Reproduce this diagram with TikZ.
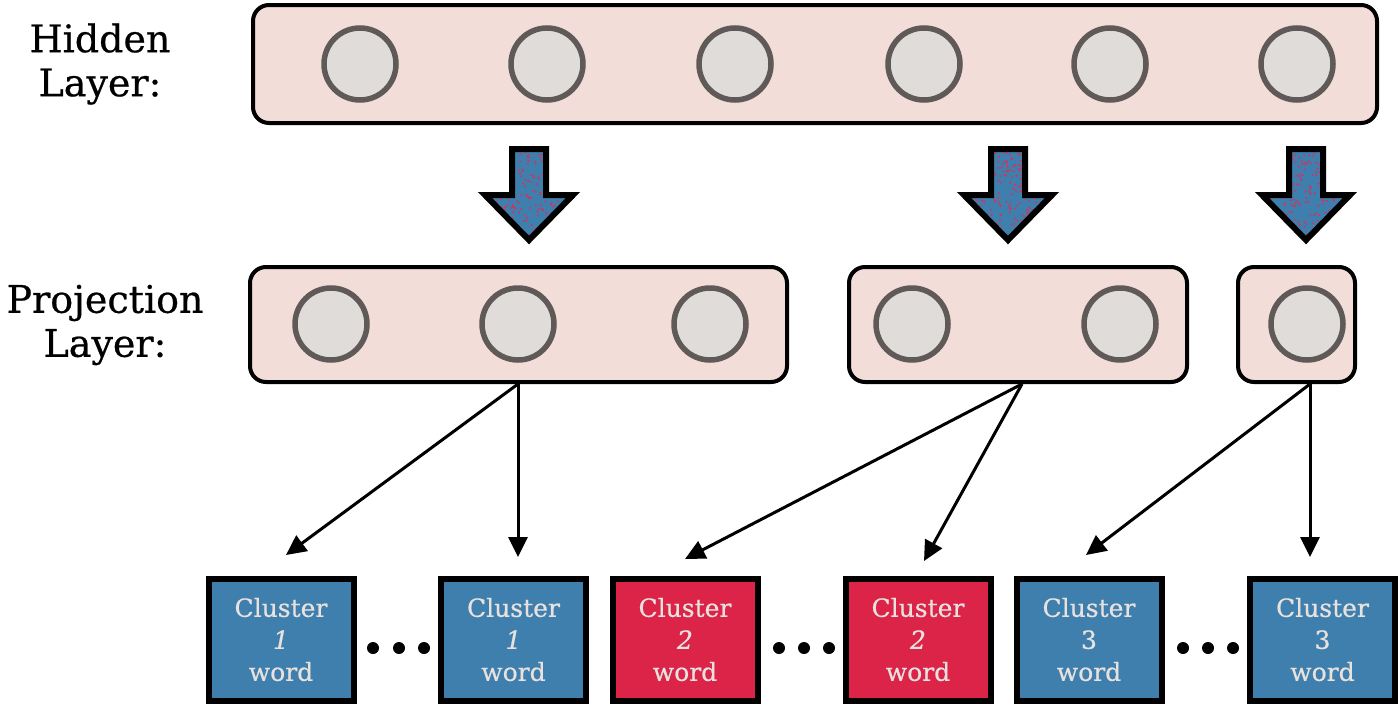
\documentclass[tikz,border=0pt]{standalone}
\usepackage{fontspec}
\setmainfont{DejaVu Serif}
\newfontfamily\heavyserif[FakeBold=0.6]{DejaVu Serif}
\usetikzlibrary{arrows.meta}
\definecolor{boxfill}{HTML}{F2DDD8}
\definecolor{circfill}{HTML}{E0DCDA}
\definecolor{circline}{HTML}{5F5A57}
\definecolor{cblue}{HTML}{3F7FAE}
\definecolor{cred}{HTML}{DC2348}
\definecolor{ctext}{HTML}{E8E2DE}
\definecolor{speck}{HTML}{D8305A}
\begin{document}
\begin{tikzpicture}[x=1pt,y=-1pt,
  layer/.style={draw=black,line width=4pt,fill=boxfill,rounded corners=16pt},
  unit/.style={circle,draw=circline,line width=5.5pt,fill=circfill,minimum size=72pt,inner sep=0pt},
  cluster/.style={draw=black,line width=6pt,minimum width=145pt,minimum height=122pt,inner sep=0pt,
     text=ctext,font=\heavyserif\fontsize{25}{32}\selectfont,align=center},
  lbl/.style={font=\heavyserif\fontsize{38}{44}\selectfont,align=center},
  conn/.style={line width=3pt,-{Triangle[length=20pt,width=19pt]}},
  dot/.style={circle,fill=black,minimum size=12pt,inner sep=0pt}
]
\useasboundingbox (0,0) rectangle (1400,707);
% hidden layer
\node[layer,minimum width=1124pt,minimum height=118pt] (hid) at (815,64) {};
\foreach \x [count=\i] in {360,547,735,924,1110,1297}
  \node[unit] (h\i) at (\x,64) {};
\node[lbl] (hl) at (100,64) {Hidden\\Layer:};
% block arrows
\foreach \c/\n in {529/a1,1008/a2,1306/a3}{
  \coordinate (\n) at (\c,195);
  \begin{scope}
  \path[clip] (\c-14,152) -- (\c+14,152) -- (\c+14,198) -- (\c+38,198) -- (\c,236) -- (\c-38,198) -- (\c-14,198) -- cycle;
  \fill[cblue] (\c-40,150) rectangle (\c+40,240);
  \pgfmathsetseed{\c}
  \foreach \k in {1,...,220}{
    \pgfmathsetmacro{\rx}{\c-38+76*rnd}
    \pgfmathsetmacro{\ry}{152+84*rnd}
    \fill[speck] (\rx,\ry) circle (1.1pt);
  }
  \end{scope}
  \draw[line width=6pt,line join=miter] (\c-17,149) -- (\c+17,149) -- (\c+17,195) -- (\c+44,195) -- (\c,240) -- (\c-44,195) -- (\c-17,195) -- cycle;
}
% projection layer
\node[layer,minimum width=537pt,minimum height=115pt] (p1) at (518.5,324.5) {};
\node[layer,minimum width=338pt,minimum height=115pt] (p2) at (1018,324.5) {};
\node[layer,minimum width=117pt,minimum height=115pt] (p3) at (1296.5,324.5) {};
\foreach \x [count=\i] in {331,518,710,912,1120,1307}
  \node[unit] (q\i) at (\x,324) {};
\node[lbl] (pl) at (105,325) {Projection\\Layer:};
% clusters
\node[cluster,fill=cblue] (c1) at (281,639.5) {Cluster\\[0pt]\textit{1}\\[0pt]word};
\node[cluster,fill=cblue] (c2) at (513.5,639.5) {Cluster\\[0pt]\textit{1}\\[0pt]word};
\node[cluster,fill=cred] (c3) at (685,639.5) {Cluster\\[0pt]\textit{2}\\[0pt]word};
\node[cluster,fill=cred] (c4) at (918,639.5) {Cluster\\[0pt]\textit{2}\\[0pt]word};
\node[cluster,fill=cblue] (c5) at (1089,639.5) {Cluster\\[0pt]3\\[0pt]word};
\node[cluster,fill=cblue] (c6) at (1322.5,639.5) {Cluster\\[0pt]3\\[0pt]word};
% dots
\foreach \x [count=\i] in {373,399,424}{\node[dot] (d1\i) at (\x,648) {};}
\foreach \x [count=\i] in {779,804,829}{\node[dot] (d2\i) at (\x,648) {};}
\foreach \x [count=\i] in {1183,1208,1233}{\node[dot] (d3\i) at (\x,648) {};}
% connectors
\coordinate (s1) at (518,384);
\coordinate (s2) at (1022,384);
\coordinate (s3) at (1310,384);
\coordinate (t1) at (286,555);
\coordinate (t2) at (518,557);
\coordinate (t3) at (685,559);
\coordinate (t4) at (924,561);
\coordinate (t5) at (1086,555);
\coordinate (t6) at (1310,557);
\draw[conn] (s1) -- (t1);
\draw[conn] (s1) -- (t2);
\draw[conn] (s2) -- (t3);
\draw[conn] (s2) -- (t4);
\draw[conn] (s3) -- (t5);
\draw[conn] (s3) -- (t6);
\end{tikzpicture}
\end{document}
